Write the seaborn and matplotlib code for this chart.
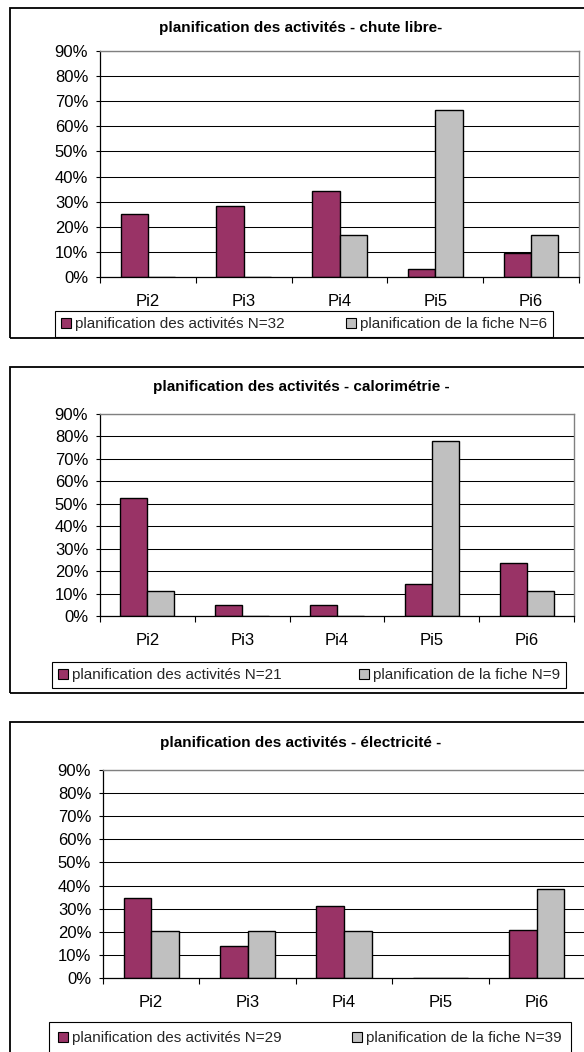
import matplotlib
matplotlib.use("Agg")
import matplotlib.pyplot as plt
import numpy as np
import pandas as pd
import seaborn as sns
from matplotlib.patches import Rectangle, Patch
from matplotlib.ticker import PercentFormatter, FixedLocator

# ---- data -------------------------------------------------------------
categories = ["Pi2", "Pi3", "Pi4", "Pi5", "Pi6"]

chute_activites = [0.250, 0.281, 0.344, 0.031, 0.094]   # N=32
chute_fiche = [0.0, 0.0, 0.167, 0.667, 0.167]           # N=6

calo_activites = [0.524, 0.048, 0.048, 0.143, 0.238]    # N=21
calo_fiche = [0.111, 0.0, 0.0, 0.778, 0.111]            # N=9

elec_activites = [0.345, 0.138, 0.310, 0.0, 0.207]      # N=29
elec_fiche = [0.205, 0.205, 0.205, 0.0, 0.385]          # N=39

titles = [
    "planification des activités - chute libre-",
    "planification des activités - calorimétrie -",
    "planification des activités - électricité -",
]
labels_activites = [
    "planification des activités N=32",
    "planification des activités N=21",
    "planification des activités N=29",
]
labels_fiche = [
    "planification de la fiche N=6",
    "planification de la fiche N=9",
    "planification de la fiche N=39",
]
y_ticks = [0.0, 0.1, 0.2, 0.3, 0.4, 0.5, 0.6, 0.7, 0.8, 0.9]

# ---- style ------------------------------------------------------------
PURPLE = "#993366"
GREY = "#C0C0C0"

sns.set_style("white")
plt.rcParams["font.family"] = ["Liberation Sans", "DejaVu Sans"]

W, H = 584, 1052
fig = plt.figure(figsize=(W / 100, H / 100), dpi=100)
fig.patch.set_facecolor("white")


def fbox(x0, y0, x1, y1):
    """Pixel box (top-left origin) -> figure fraction rect."""
    return [x0 / W, 1 - y1 / H, (x1 - x0) / W, (y1 - y0) / H]


# layout of each panel in pixels:
# frame (top, bottom), plot area (left, right, top, bottom), title y,
# legend (left, right, top), legend border padding
panels = [
    dict(frame=(8, 338), plot=(100, 579, 51, 277), title_y=28, leg=(55, 553, 311), bpad=0.4),
    dict(frame=(367, 693), plot=(100, 574, 414, 616), title_y=387, leg=(52, 566, 662), bpad=0.4),
    dict(frame=(722, 1070), plot=(103, 585, 770, 978), title_y=743, leg=(49, 571, 1022), bpad=0.6),
]
series = [
    (chute_activites, chute_fiche),
    (calo_activites, calo_fiche),
    (elec_activites, elec_fiche),
]

for i, (spec, (act, fiche)) in enumerate(zip(panels, series)):
    ft, fb = spec["frame"]
    fig.add_artist(Rectangle((10 / W, 1 - fb / H), 620 / W, (fb - ft) / H,
                             transform=fig.transFigure, fill=False,
                             edgecolor="black", linewidth=1.3, zorder=0))

    l, r, t, b = spec["plot"]
    ax = fig.add_axes(fbox(l, t, r, b))

    df = pd.DataFrame({
        "cat": categories * 2,
        "val": list(act) + list(fiche),
        "serie": [labels_activites[i]] * len(categories) + [labels_fiche[i]] * len(categories),
    })
    sns.barplot(data=df, x="cat", y="val", hue="serie",
                hue_order=[labels_activites[i], labels_fiche[i]],
                palette=[PURPLE, GREY], saturation=1, errorbar=None,
                edgecolor="black", linewidth=1.0, width=0.571,
                legend=False, ax=ax)

    ax.set_xlim(-0.5, len(categories) - 0.5)
    ax.set_ylim(0, 0.9)
    ax.yaxis.set_major_locator(FixedLocator(y_ticks))
    ax.yaxis.set_major_formatter(PercentFormatter(1.0, decimals=0))
    ax.grid(axis="y", color="black", linewidth=0.75)
    ax.grid(axis="x", visible=False)
    ax.set_axisbelow(True)
    ax.set_xlabel("")
    ax.set_ylabel("")

    # category boundaries carry the tick marks, labels sit at the centres
    ax.xaxis.set_minor_locator(FixedLocator(np.arange(-0.5, len(categories), 1.0)))
    ax.tick_params(axis="x", which="major", length=0, pad=12.5, labelsize=12, colors="black")
    ax.tick_params(axis="x", which="minor", length=4, width=0.8, direction="out",
                   color="black", bottom=True)
    ax.tick_params(axis="y", which="major", length=3, width=0.8, direction="out",
                   pad=5.5, labelsize=12, colors="black", left=True)

    for side in ("left", "bottom"):
        ax.spines[side].set_color("black")
        ax.spines[side].set_linewidth(0.9)
    for side in ("top", "right"):
        ax.spines[side].set_color("#808080")
        ax.spines[side].set_linewidth(1.0)
        ax.spines[side].set_visible(True)

    fig.text(301 / W, 1 - spec["title_y"] / H, titles[i], ha="center", va="center",
             fontsize=11, fontweight="bold", color="black")

    lx0, lx1, lt = spec["leg"]
    handles = [Patch(facecolor=PURPLE, edgecolor="black", linewidth=0.8),
               Patch(facecolor=GREY, edgecolor="black", linewidth=0.8)]
    leg = fig.legend(handles, [labels_activites[i], labels_fiche[i]],
                     loc="upper left", mode="expand", ncol=2,
                     bbox_to_anchor=(lx0 / W, 1 - (lt + 30) / H, (lx1 - lx0) / W, 30 / H),
                     borderaxespad=0, fontsize=11, frameon=True, fancybox=False,
                     framealpha=1, edgecolor="black", handlelength=0.65,
                     handleheight=0.65, handletextpad=0.25, borderpad=spec["bpad"],
                     columnspacing=1.0)
    leg.get_frame().set_linewidth(0.8)

fig.savefig("out.png", dpi=100)
